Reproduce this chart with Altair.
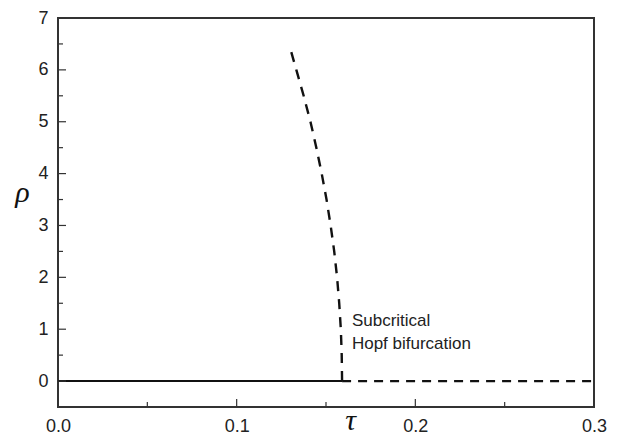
import altair as alt
import pandas as pd

# ---- data ----
tau_stable = [0.0, 0.159]
rho_stable = [0.0, 0.0]
tau_unstable = [0.159, 0.3]
rho_unstable = [0.0, 0.0]
curve_rho = [0.0, 0.5, 1.0, 1.5, 2.0, 2.5, 3.0, 3.5, 4.0, 4.5, 5.0, 5.5, 6.0, 6.35]
curve_tau = [0.159, 0.1588, 0.1583, 0.1574, 0.1562, 0.1546, 0.1526, 0.1503,
             0.1476, 0.1446, 0.1413, 0.1375, 0.1334, 0.1305]
x_major = [0.0, 0.1, 0.2, 0.3]
x_minor = [0.05, 0.15, 0.25]
y_major = [0, 1, 2, 3, 4, 5, 6, 7]
y_minor = [0.5, 1.5, 2.5, 3.5, 4.5, 5.5, 6.5]
note_lines = ["Subcritical", "Hopf bifurcation"]
note_tau = [0.1645, 0.1645]
note_rho = [1.16, 0.72]

W, H = 536, 389
xs = alt.Scale(domain=[0, 0.3], nice=False, zero=False)
ys = alt.Scale(domain=[-0.5, 7], nice=False, zero=False)

stable = pd.DataFrame({"tau": tau_stable, "rho": rho_stable})
unstable = pd.DataFrame({"tau": tau_unstable, "rho": rho_unstable})
curve = pd.DataFrame({"tau": curve_tau, "rho": curve_rho, "i": range(len(curve_rho))})
notes = pd.DataFrame({"t": note_lines, "tau": note_tau, "rho": note_rho})

x_axis = alt.Axis(values=x_major, format=".1f", tickSize=0, domain=False, grid=False,
                  labelFlush=False, labelPadding=10, labelFont="Liberation Sans",
                  labelFontSize=18, labelColor="#222", title="τ", titleFont="Liberation Serif",
                  titleFontStyle="italic", titleFontWeight="normal", titleFontSize=30,
                  titleColor="#111", titleX=292, titleY=28, titleAlign="center",
                  titleBaseline="bottom")
y_axis = alt.Axis(values=y_major, format="d", tickSize=0, domain=False, grid=False,
                  labelFlush=False, labelPadding=10, labelFont="Liberation Sans",
                  labelFontSize=18, labelColor="#222", title="ρ", titleFont="Liberation Serif",
                  titleFontStyle="italic", titleFontWeight="normal", titleFontSize=30,
                  titleColor="#111", titleAngle=0, titleX=-36, titleY=174,
                  titleAlign="center", titleBaseline="middle")

solid = alt.Chart(stable).mark_line(color="#111", strokeWidth=2).encode(
    x=alt.X("tau:Q", scale=xs, axis=x_axis),
    y=alt.Y("rho:Q", scale=ys, axis=y_axis),
)
dash_h = alt.Chart(unstable).mark_line(color="#111", strokeWidth=2.2, strokeDash=[9, 7]).encode(
    x=alt.X("tau:Q", scale=xs), y=alt.Y("rho:Q", scale=ys)
)
dash_c = alt.Chart(curve).mark_line(color="#111", strokeWidth=2.4, strokeDash=[10, 8]).encode(
    x=alt.X("tau:Q", scale=xs), y=alt.Y("rho:Q", scale=ys), order="i:Q"
)

def xticks(vals, length):
    return alt.Chart(pd.DataFrame({"v": vals})).mark_rule(color="#333", strokeWidth=1.2).encode(
        x=alt.X("v:Q", scale=xs), y=alt.value(H), y2=alt.value(H - length)
    )

def yticks(vals, length):
    return alt.Chart(pd.DataFrame({"v": vals})).mark_rule(color="#333", strokeWidth=1.2).encode(
        y=alt.Y("v:Q", scale=ys), x=alt.value(0), x2=alt.value(length)
    )

text = alt.Chart(notes).mark_text(align="left", baseline="middle", font="Liberation Sans",
                                  fontSize=17, color="#222").encode(
    x=alt.X("tau:Q", scale=xs), y=alt.Y("rho:Q", scale=ys), text="t:N"
)

chart = alt.layer(
    solid, dash_h, dash_c,
    xticks(x_major, 8), xticks(x_minor, 5), yticks(y_major, 8), yticks(y_minor, 5),
    text,
).properties(
    width=W, height=H,
    autosize=alt.AutoSizeParams(type="none"),
    padding={"left": 50, "top": 10, "right": 16, "bottom": 28},
    background="white",
).configure_view(stroke="#333", strokeWidth=2)

chart.save("out.html", embed_options={"renderer": "svg", "actions": False})
